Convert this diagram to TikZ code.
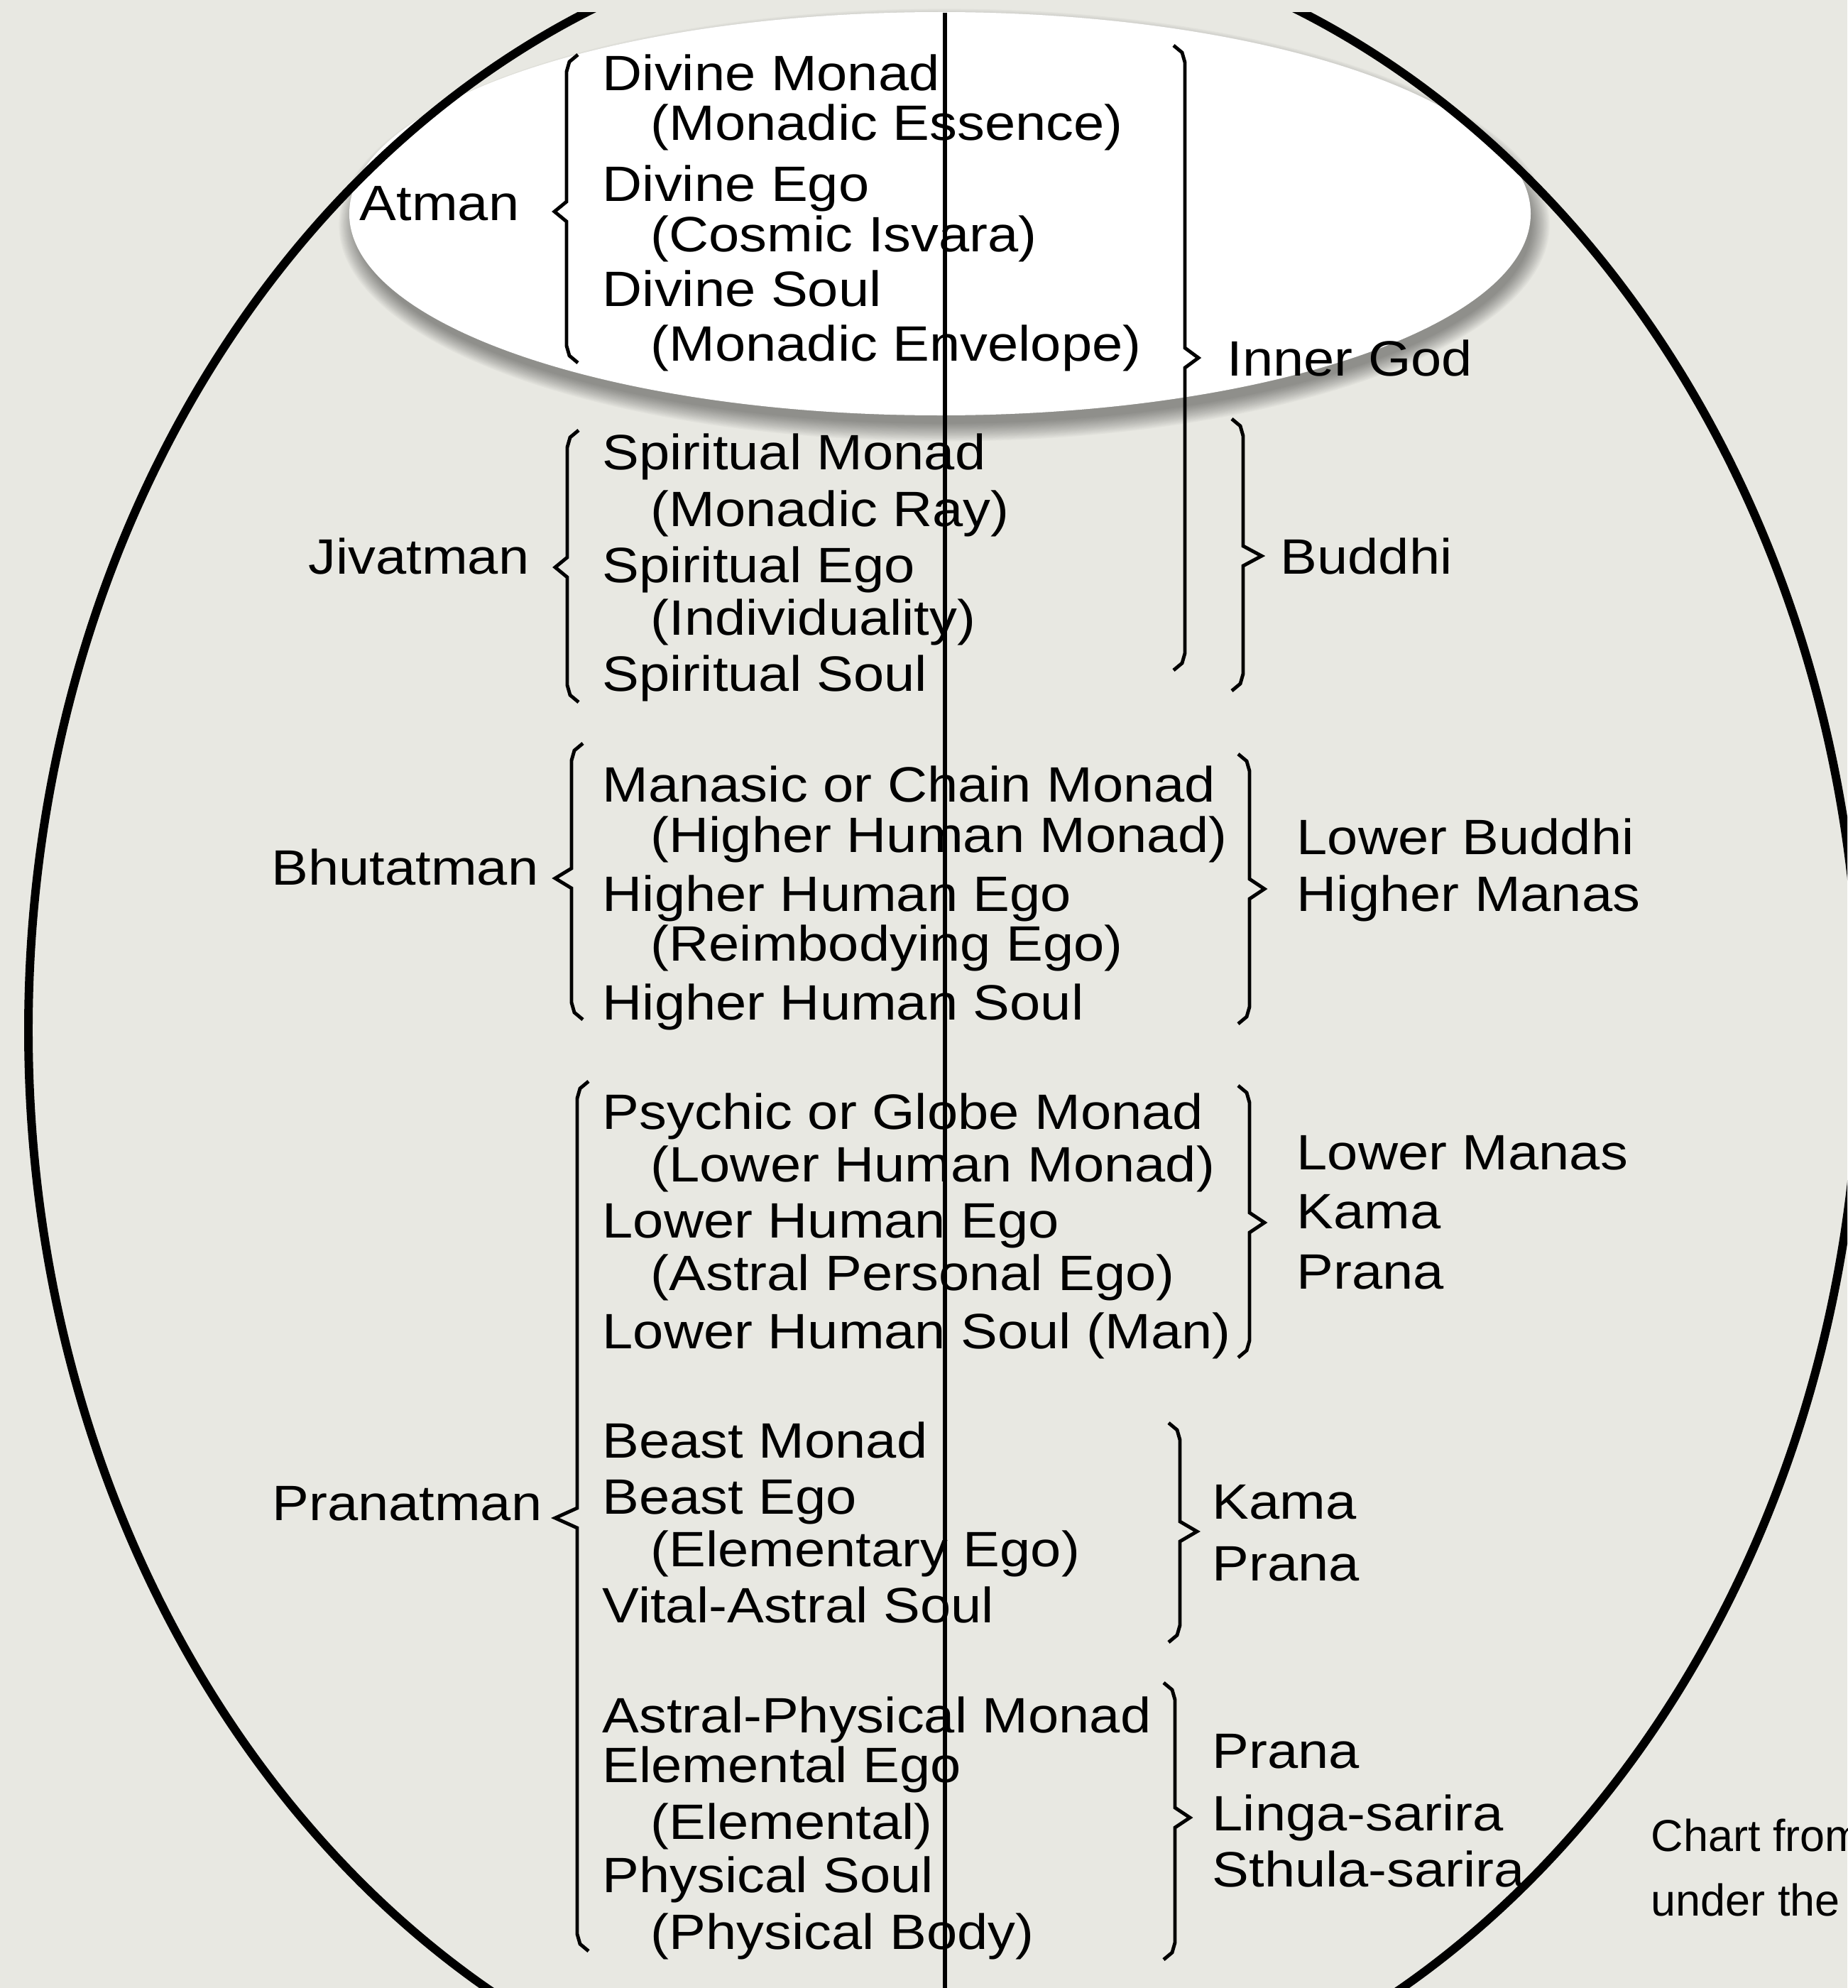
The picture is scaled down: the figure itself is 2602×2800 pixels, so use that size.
\documentclass[tikz,border=0pt]{standalone}
\usepackage{fontspec}
\setmainfont{Liberation Sans}[FakeStretch=1.11]
\newfontfamily\notefont{Liberation Sans}
\newcommand\chartfont{\fontsize{19.9pt}{24pt}\selectfont}
\newcommand\captionfont{\notefont\fontsize{17.9pt}{22pt}\selectfont}
\definecolor{paper}{RGB}{232,232,226}

% opening brace: x of stem, top, bottom, tip y, tip x
\newcommand\openbrace[5]{%
  \draw[bracepen] (#1+16,#2) -- (#1+4,#2+10) -- (#1,#2+24) -- (#1,#4-14)
    -- (#5,#4) -- (#1,#4+14) -- (#1,#3-24) -- (#1+4,#3-10) -- (#1+16,#3);}
% closing brace: x of stem, top, bottom, tip y, tip x
\newcommand\closebrace[5]{%
  \draw[bracepen] (#1-16,#2) -- (#1-4,#2+10) -- (#1,#2+24) -- (#1,#4-14)
    -- (#5,#4) -- (#1,#4+14) -- (#1,#3-24) -- (#1-4,#3-10) -- (#1-16,#3);}

\begin{document}
\begin{tikzpicture}[x=0.01cm,y=-0.01cm,
  item/.style={anchor=base west, inner sep=0pt, font=\chartfont},
  head/.style={anchor=base east, inner sep=0pt, font=\chartfont},
  note/.style={anchor=base west, inner sep=0pt, font=\captionfont},
  bracepen/.style={line width=1.4pt, line join=miter},
  axisline/.style={line width=1.5pt},
  egg/.style={line width=3.4pt}]

\useasboundingbox (0,0) rectangle (2602,2800);
\fill[paper] (0,0) rectangle (2602,2800);

\begin{scope}
  \clip (0,0) rectangle (2602,2800);

  % soft shadow under the highlighted oval, falling down and to the right
  \foreach \i in {1,...,14}
    \fill[black, opacity=0.03] (1330,317) ellipse [x radius=826+\i*1.9, y radius=278+\i*1.9];
  \fill[white] (1324,301) ellipse [x radius=832, y radius=284];

  % the large oval enclosing the chart
  \begin{scope}
    \clip (0,18) rectangle (2602,2800);
    \draw[egg] (1330,1451) ellipse [x radius=1290, y radius=1557];
  \end{scope}

  % central axis
  \coordinate (axtop) at (1331,18);
  \coordinate (axbot) at (1331,2800);
  \draw[axisline] (axtop) -- (axbot);

  % left braces
  \openbrace{798}{77}{511}{298}{781}
  \openbrace{799}{606}{989}{799}{782}
  \openbrace{805}{1047}{1436}{1237}{782}
  \openbrace{813}{1523}{2748}{2138}{782}

  % right braces
  \closebrace{1669}{64}{944}{504}{1688}
  \closebrace{1751}{590}{973}{783}{1777}
  \closebrace{1760}{1062}{1442}{1252}{1781}
  \closebrace{1760}{1529}{1912}{1722}{1781}
  \closebrace{1662}{2004}{2313}{2157}{1686}
  \closebrace{1655}{2370}{2760}{2560}{1676}

  % principles
  \node[head] (atman) at (732,310) {Atman};
  \node[head] (jivatman) at (746,808) {Jivatman};
  \node[head] (bhutatman) at (759,1246) {Bhutatman};
  \node[head] (pranatman) at (764,2141) {Pranatman};

  % monads, egos and souls
  \node[item] (m1) at (848,128) {Divine Monad};
  \node[item] (m2) at (916,198) {(Monadic Essence)};
  \node[item] (m3) at (848,283) {Divine Ego};
  \node[item] (m4) at (916,354) {(Cosmic Isvara)};
  \node[item] (m5) at (848,431) {Divine Soul};
  \node[item] (m6) at (916,508) {(Monadic Envelope)};

  \node[item] (s1) at (848,661) {Spiritual Monad};
  \node[item] (s2) at (916,741) {(Monadic Ray)};
  \node[item] (s3) at (848,820) {Spiritual Ego};
  \node[item] (s4) at (916,894) {(Individuality)};
  \node[item] (s5) at (848,973) {Spiritual Soul};

  \node[item] (h1) at (848,1129) {Manasic or Chain Monad};
  \node[item] (h2) at (916,1200) {(Higher Human Monad)};
  \node[item] (h3) at (848,1283) {Higher Human Ego};
  \node[item] (h4) at (916,1353) {(Reimbodying Ego)};
  \node[item] (h5) at (848,1436) {Higher Human Soul};

  \node[item] (l1) at (848,1590) {Psychic or Globe Monad};
  \node[item] (l2) at (916,1664) {(Lower Human Monad)};
  \node[item] (l3) at (848,1743) {Lower Human Ego};
  \node[item] (l4) at (916,1817) {(Astral Personal Ego)};
  \node[item] (l5) at (848,1899) {Lower Human Soul (Man)};

  \node[item] (b1) at (848,2053) {Beast Monad};
  \node[item] (b2) at (848,2132) {Beast Ego};
  \node[item] (b3) at (916,2206) {(Elementary Ego)};
  \node[item] (b4) at (848,2285) {Vital-Astral Soul};

  \node[item] (p1) at (848,2440) {Astral-Physical Monad};
  \node[item] (p2) at (848,2510) {Elemental Ego};
  \node[item] (p3) at (916,2590) {(Elemental)};
  \node[item] (p4) at (848,2665) {Physical Soul};
  \node[item] (p5) at (916,2745) {(Physical Body)};

  % corresponding principles
  \node[item] (innergod) at (1728,529) {Inner God};
  \node[item] (buddhi) at (1803,808) {Buddhi};
  \node[item] (lbuddhi) at (1826,1203) {Lower Buddhi};
  \node[item] (hmanas) at (1826,1283) {Higher Manas};
  \node[item] (lmanas) at (1826,1647) {Lower Manas};
  \node[item] (kama1) at (1826,1730) {Kama};
  \node[item] (prana1) at (1826,1815) {Prana};
  \node[item] (kama2) at (1707,2139) {Kama};
  \node[item] (prana2) at (1707,2226) {Prana};
  \node[item] (prana3) at (1707,2490) {Prana};
  \node[item] (linga) at (1707,2578) {Linga-sarira};
  \node[item] (sthula) at (1707,2657) {Sthula-sarira};

  % source note, running past the right edge
  \node[note] (src1) at (2325,2607) {Chart from};
  \node[note] (src2) at (2325,2698) {under the};
\end{scope}
\end{tikzpicture}
\end{document}
